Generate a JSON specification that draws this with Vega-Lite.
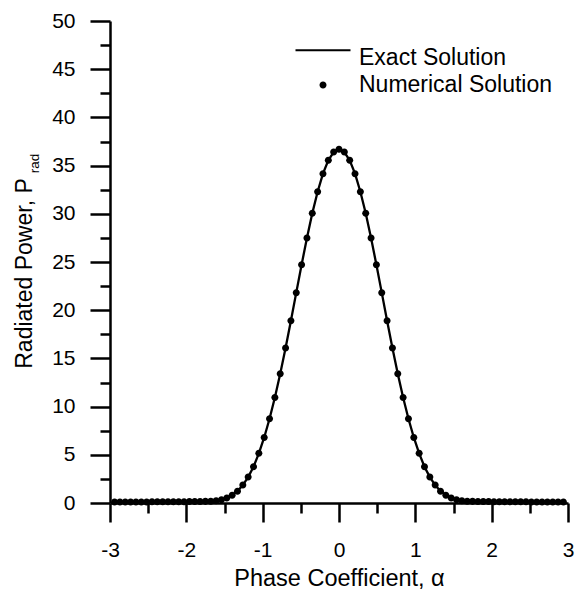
{
  "$schema": "https://vega.github.io/schema/vega-lite/v6.json",
  "width": 458,
  "height": 482,
  "autosize": {"type": "none"},
  "padding": {"left": 110, "top": 21, "right": 8, "bottom": 92},
  "background": "white",
  "config": {"view": {"stroke": null}, "font": "Liberation Sans"},
  "data": {"values": [
    {"a": -2.94, "p": 0.10}, {"a": -2.87, "p": 0.10}, {"a": -2.80, "p": 0.10}, {"a": -2.73, "p": 0.10},
    {"a": -2.66, "p": 0.11}, {"a": -2.59, "p": 0.11}, {"a": -2.52, "p": 0.11}, {"a": -2.45, "p": 0.12},
    {"a": -2.38, "p": 0.12}, {"a": -2.31, "p": 0.12}, {"a": -2.24, "p": 0.13}, {"a": -2.17, "p": 0.13},
    {"a": -2.10, "p": 0.14}, {"a": -2.03, "p": 0.14}, {"a": -1.96, "p": 0.15}, {"a": -1.89, "p": 0.15},
    {"a": -1.82, "p": 0.16}, {"a": -1.75, "p": 0.17}, {"a": -1.68, "p": 0.19}, {"a": -1.61, "p": 0.24},
    {"a": -1.54, "p": 0.34}, {"a": -1.47, "p": 0.52}, {"a": -1.40, "p": 0.80}, {"a": -1.33, "p": 1.22},
    {"a": -1.26, "p": 1.86}, {"a": -1.19, "p": 2.69}, {"a": -1.12, "p": 3.76}, {"a": -1.05, "p": 5.15},
    {"a": -0.98, "p": 6.80}, {"a": -0.91, "p": 8.74}, {"a": -0.84, "p": 10.95}, {"a": -0.77, "p": 13.40},
    {"a": -0.70, "p": 16.08}, {"a": -0.63, "p": 18.90}, {"a": -0.56, "p": 21.82}, {"a": -0.49, "p": 24.72},
    {"a": -0.42, "p": 27.48}, {"a": -0.35, "p": 30.05}, {"a": -0.28, "p": 32.29}, {"a": -0.21, "p": 34.16},
    {"a": -0.14, "p": 35.55}, {"a": -0.07, "p": 36.41}, {"a": 0.00, "p": 36.70}, {"a": 0.07, "p": 36.41},
    {"a": 0.14, "p": 35.55}, {"a": 0.21, "p": 34.16}, {"a": 0.28, "p": 32.29}, {"a": 0.35, "p": 30.05},
    {"a": 0.42, "p": 27.48}, {"a": 0.49, "p": 24.72}, {"a": 0.56, "p": 21.82}, {"a": 0.63, "p": 18.90},
    {"a": 0.70, "p": 16.08}, {"a": 0.77, "p": 13.40}, {"a": 0.84, "p": 10.95}, {"a": 0.91, "p": 8.74},
    {"a": 0.98, "p": 6.80}, {"a": 1.05, "p": 5.15}, {"a": 1.12, "p": 3.76}, {"a": 1.19, "p": 2.69},
    {"a": 1.26, "p": 1.86}, {"a": 1.33, "p": 1.22}, {"a": 1.40, "p": 0.80}, {"a": 1.47, "p": 0.52},
    {"a": 1.54, "p": 0.34}, {"a": 1.61, "p": 0.24}, {"a": 1.68, "p": 0.19}, {"a": 1.75, "p": 0.17},
    {"a": 1.82, "p": 0.16}, {"a": 1.89, "p": 0.15}, {"a": 1.96, "p": 0.15}, {"a": 2.03, "p": 0.14},
    {"a": 2.10, "p": 0.14}, {"a": 2.17, "p": 0.13}, {"a": 2.24, "p": 0.13}, {"a": 2.31, "p": 0.12},
    {"a": 2.38, "p": 0.12}, {"a": 2.45, "p": 0.12}, {"a": 2.52, "p": 0.11}, {"a": 2.59, "p": 0.11},
    {"a": 2.66, "p": 0.11}, {"a": 2.73, "p": 0.10}, {"a": 2.80, "p": 0.10}, {"a": 2.87, "p": 0.10},
    {"a": 2.94, "p": 0.10}
  ]},
  "resolve": {"axis": {"x": "independent", "y": "independent"}},
  "layer": [
    {
      "mark": {"type": "line", "color": "black", "strokeWidth": 2.3},
      "encoding": {
        "x": {
          "field": "a", "type": "quantitative",
          "scale": {"domain": [-3, 3], "nice": false, "zero": false},
          "axis": {
            "orient": "bottom",
            "title": "Phase Coefficient, α",
            "values": [-3, -2, -1, 0, 1, 2, 3],
            "labelExpr": "'' + datum.value",
            "labelFlush": false, "labelOverlap": false,
            "tickSize": 19, "labelPadding": 17,
            "labelFont": "Liberation Sans", "labelFontSize": 21, "labelColor": "black",
            "domainColor": "black", "domainWidth": 2.5, "tickColor": "black", "tickWidth": 2.5,
            "grid": false, "zindex": 1,
            "titleFont": "Liberation Sans", "titleFontSize": 23.5, "titleFontWeight": "normal", "titleColor": "black",
            "titleY": 82, "titleBaseline": "alphabetic"
          }
        },
        "y": {
          "field": "p", "type": "quantitative",
          "scale": {"domain": [0, 50], "nice": false, "zero": true},
          "axis": {
            "orient": "left",
            "title": "Radiated Power, P",
            "values": [0, 5, 10, 15, 20, 25, 30, 35, 40, 45, 50],
            "labelExpr": "'' + datum.value",
            "labelFlush": false, "labelOverlap": false,
            "tickSize": 20, "labelPadding": 15,
            "labelFont": "Liberation Sans", "labelFontSize": 21, "labelColor": "black",
            "domainColor": "black", "domainWidth": 2.5, "tickColor": "black", "tickWidth": 2.5,
            "grid": false, "zindex": 1,
            "titleFont": "Liberation Sans", "titleFontSize": 23, "titleFontWeight": "normal", "titleColor": "black",
            "titleAngle": -90, "titleX": -79, "titleY": 252, "titleAlign": "center", "titleBaseline": "alphabetic"
          }
        }
      }
    },
    {
      "mark": {"type": "point", "filled": true, "color": "black", "strokeWidth": 0, "size": 121, "opacity": 1},
      "encoding": {
        "x": {
          "field": "a", "type": "quantitative",
          "axis": {
            "orient": "bottom", "title": null, "labels": false, "domain": false, "grid": false,
            "values": [-2.5, -1.5, -0.5, 0.5, 1.5, 2.5],
            "tickSize": 10, "tickColor": "black", "tickWidth": 2.5, "zindex": 1
          }
        },
        "y": {
          "field": "p", "type": "quantitative",
          "axis": {
            "orient": "left", "title": "rad", "labels": false, "domain": false, "grid": false,
            "values": [2.5, 7.5, 12.5, 17.5, 22.5, 27.5, 32.5, 37.5, 42.5, 47.5],
            "tickSize": 10, "tickColor": "black", "tickWidth": 2.5, "zindex": 1,
            "titleFont": "Liberation Sans", "titleFontSize": 13.5, "titleFontWeight": "normal", "titleColor": "black",
            "titleAngle": -90, "titleX": -72, "titleY": 142, "titleAlign": "center", "titleBaseline": "alphabetic"
          }
        },
        "shape": {
          "datum": "Numerical Solution",
          "scale": {
            "domain": ["Exact Solution", "Numerical Solution"],
            "range": ["M-5,-1.5H5V-1.14H-5Z", "M-0.64,0A0.64,0.64 0 1,0 0.64,0A0.64,0.64 0 1,0 -0.64,0Z"]
          },
          "legend": {
            "orient": "none", "legendX": 201.5, "legendY": 25, "title": null, "padding": 0,
            "symbolSize": 121, "symbolFillColor": "black", "symbolStrokeWidth": 0,
            "labelFont": "Liberation Sans", "labelFontSize": 23, "labelColor": "black",
            "labelOffset": 24.5, "rowPadding": 3.5, "labelLimit": 300,
            "encode": {
              "symbols": {
                "update": {
                  "fill": {"value": "black"},
                  "opacity": {"value": 1}
                }
              }
            }
          }
        }
      }
    }
  ]
}
